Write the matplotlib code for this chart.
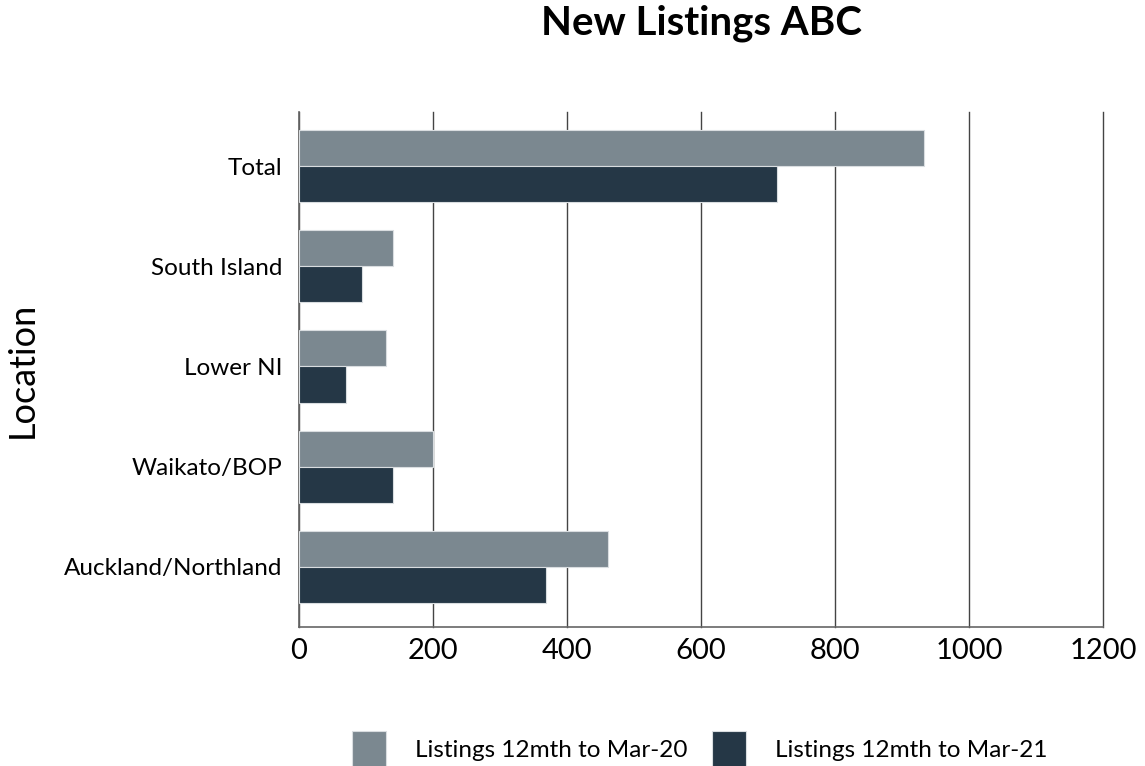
import matplotlib.pyplot as plt
import numpy as np

plt.rcParams['font.family'] = ['Lato', 'DejaVu Sans']

# Data
locations = ['Auckland/Northland', 'Waikato/BOP', 'Lower NI', 'South Island', 'Total']
listings_mar20 = [461, 200, 130, 140, 933]
listings_mar21 = [369, 140, 70, 94, 713]

grey = '#7b8890'
dark = '#253746'

fig = plt.figure(figsize=(11.45, 7.66), dpi=100)
ax = fig.add_axes([0.2611, 0.1815, 0.7022, 0.6723])

index = np.arange(len(locations))
bar_height = 0.36

ax.barh(index + bar_height / 2, listings_mar20, bar_height, color=grey,
        edgecolor='#d9dde0', linewidth=0.8, label='Listings 12mth to Mar-20', zorder=3)
ax.barh(index - bar_height / 2, listings_mar21, bar_height, color=dark,
        edgecolor='#d9dde0', linewidth=0.8, label='Listings 12mth to Mar-21', zorder=3)

ax.set_xlim(0, 1200)
ax.set_ylim(-0.6, 4.54)
ax.set_xticks(np.arange(0, 1201, 200))
ax.set_yticks(index)
ax.set_yticklabels(locations, fontsize=17.5)
ax.tick_params(axis='x', labelsize=21, length=0, pad=8)
ax.tick_params(axis='y', length=0, pad=12)

ax.grid(axis='x', color='#444444', linewidth=1, zorder=0)
for line in ax.get_xgridlines():
    line.set_clip_on(False)
for s in ['top', 'right']:
    ax.spines[s].set_visible(False)
for s in ['left', 'bottom']:
    ax.spines[s].set_color('#666666')
    ax.spines[s].set_linewidth(1.2)

ax.set_ylabel('Location', fontsize=26, labelpad=18)
ax.set_title('New Listings ABC', fontsize=29, fontweight='bold', pad=56)

fig.legend(loc='lower center', bbox_to_anchor=(0.611, -0.03), ncol=2, frameon=False,
           fontsize=17.5, handlelength=1.4, handleheight=1.9, columnspacing=1.0,
           handletextpad=1.2)

fig.savefig('out.png', dpi=100)
